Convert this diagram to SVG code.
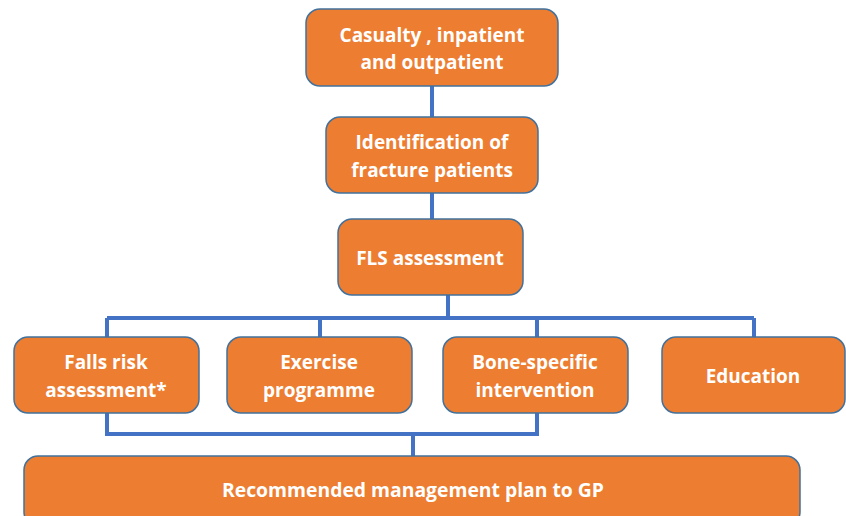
<svg xmlns="http://www.w3.org/2000/svg" width="846" height="516" viewBox="0 0 846 516">
<style>
.n{fill:#ED7D31;stroke:#41719C;stroke-width:1.5}
.t{font-family:"Open Sans","Liberation Sans",sans-serif;font-weight:bold;font-size:19px;fill:#fff;text-anchor:middle}
.c{fill:none;stroke:#4472C4;stroke-width:4}
</style>
<rect width="846" height="516" fill="#fff"/>
<g id="connectors">
<path class="c" d="M432 86V117M432 193V219M448 295V318M107 318H754M107 318V337M320 318V337M537 318V337M754 318V337M107 413V434H537V413M413 434V456"/>
</g>
<g id="n1"><rect class="n" x="306" y="9" width="252" height="77" rx="14"/><text class="t" x="432" y="42">Casualty , inpatient</text><text class="t" x="432" y="69">and outpatient</text></g>
<g id="n2"><rect class="n" x="326" y="117" width="212" height="76" rx="14"/><text class="t" x="432" y="149">Identification of</text><text class="t" x="432" y="177">fracture patients</text></g>
<g id="n3"><rect class="n" x="338" y="219" width="185" height="76" rx="14"/><text class="t" x="430" y="265">FLS assessment</text></g>
<g id="n4"><rect class="n" x="14" y="337" width="185" height="76" rx="14"/><text class="t" x="106" y="369">Falls risk</text><text class="t" x="106" y="397">assessment*</text></g>
<g id="n5"><rect class="n" x="227" y="337" width="185" height="76" rx="14"/><text class="t" x="319" y="369">Exercise</text><text class="t" x="319" y="397">programme</text></g>
<g id="n6"><rect class="n" x="443" y="337" width="185" height="76" rx="14"/><text class="t" x="535" y="369">Bone-specific</text><text class="t" x="535" y="397">intervention</text></g>
<g id="n7"><rect class="n" x="662" y="337" width="183" height="76" rx="14"/><text class="t" x="753" y="383">Education</text></g>
<g id="n8"><rect class="n" x="24" y="456" width="776" height="70" rx="14"/><text class="t" x="413" y="497" textLength="382" lengthAdjust="spacingAndGlyphs">Recommended management plan to GP</text></g>
</svg>
